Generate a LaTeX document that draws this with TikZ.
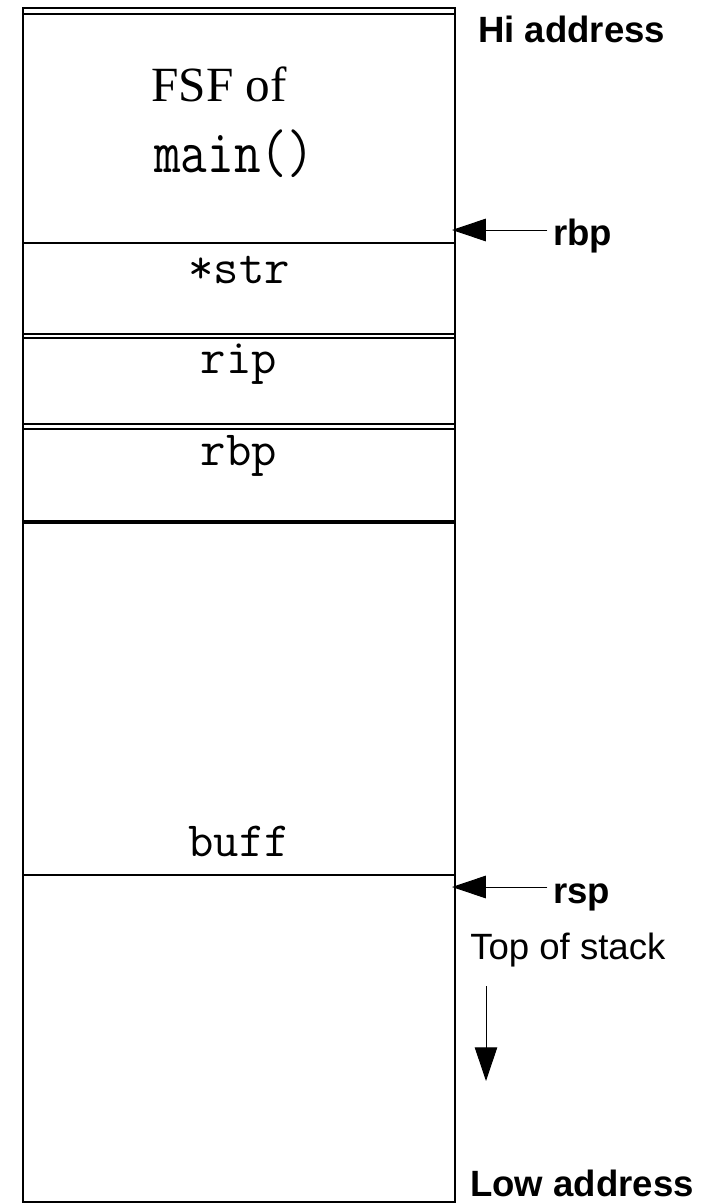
\documentclass[tikz,border=0pt]{standalone}
\usepackage{fontspec}
\usepackage{graphicx}
\setmainfont{Liberation Serif}
\setsansfont{Liberation Sans}
\usetikzlibrary{arrows.meta}

\tikzset{
  cell/.style={draw, line width=1pt},
  code/.style={font=\ttfamily\fontsize{35}{35}\selectfont, anchor=base, inner sep=0pt},
  addr/.style={font=\sffamily\bfseries\fontsize{26}{26}\selectfont, anchor=base west, inner sep=0pt},
  ptr/.style={-{Triangle[length=24pt,width=16pt]}, line width=0.7pt},
}

\begin{document}
\begin{tikzpicture}[x=0.025cm,y=-0.025cm]
\useasboundingbox (0,0) rectangle (702,1204);

% the stack and its slots
\draw[cell] (23,8) rectangle (455,1202);
\foreach \ya/\yb in {14/243, 243/334, 338/424, 429/521, 523/875}{
  \draw[cell] (23,\ya) rectangle (455,\yb);
}

\node[font=\fontsize{35}{35}\selectfont, anchor=base, inner sep=0pt] (fsf) at (219,101) {FSF of};
\node[code] (main) at (234,172) {\scalebox{1.05}[1.25]{main()}};
\node[code] (str) at (239,283) {*str};
\node[code] (rip) at (239,373) {rip};
\node[code] (oldrbp) at (239,465) {rbp};
\node[code] (buff) at (239,856) {buff};

% labels on the right
\node[addr] (hi) at (478,42) {Hi address};
\node[addr] (rbp) at (553,245) {rbp};
\node[addr] (rsp) at (553,903) {rsp};
\node[addr, font=\sffamily\fontsize{26}{26}\selectfont] (tos) at (470,959) {Top of stack};
\node[addr] (low) at (470,1196) {Low address};

\coordinate (rbptip) at (452,230);
\coordinate (rsptip) at (452,887);
\draw[ptr] ([xshift=-4pt]rbp.west |- rbptip) -- (rbptip);
\draw[ptr] ([xshift=-4pt]rsp.west |- rsptip) -- (rsptip);

% direction of growth
\coordinate (grow) at (486,986);
\coordinate (growend) at (486,1081);
\draw[ptr] (grow) -- (growend);
\end{tikzpicture}
\end{document}
